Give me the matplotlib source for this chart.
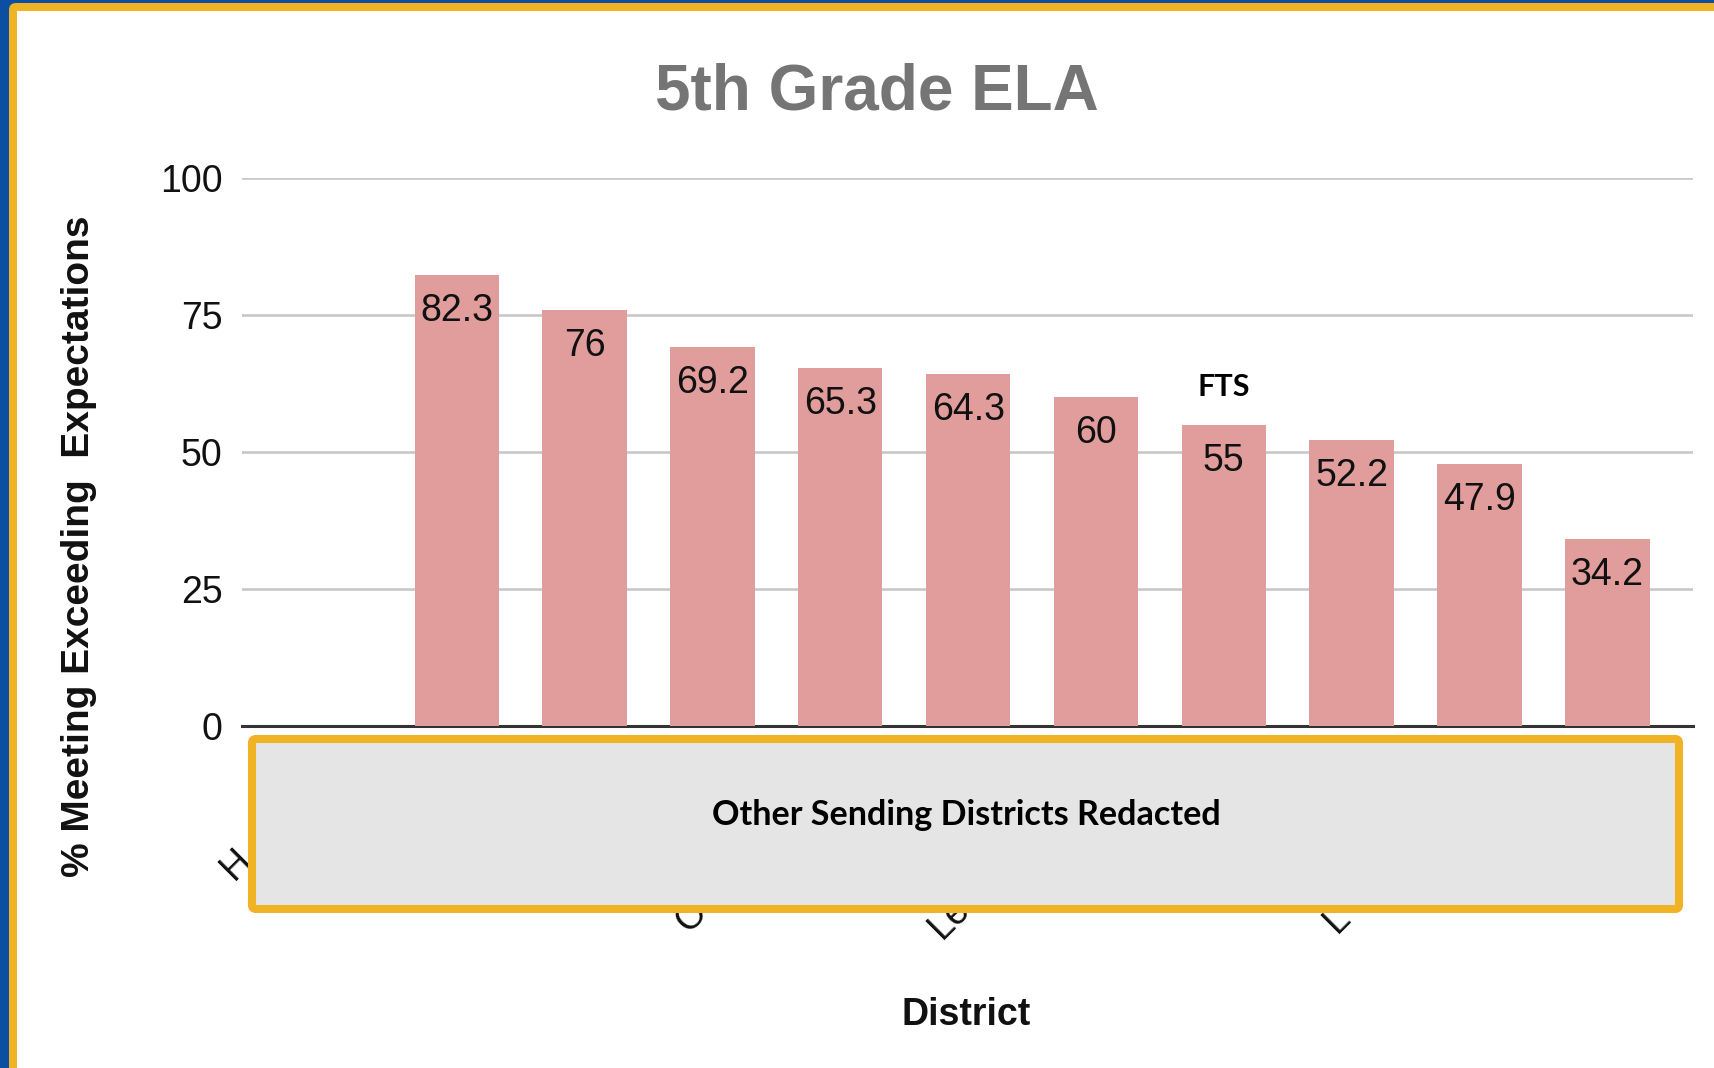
"""
5th Grade ELA - % meeting/exceeding expectations by district.
"""

import numpy as np
import matplotlib.pyplot as plt
from matplotlib.patches import Rectangle, FancyBboxPatch
from matplotlib.transforms import IdentityTransform

# data
districts = ["H", "", "", "", "C", "", "Le", "", "", "L", ""]
scores = [np.nan, 82.3, 76, 69.2, 65.3, 64.3, 60, 55, 52.2, 47.9, 34.2]
value_labels = ["", "82.3", "76", "69.2", "65.3", "64.3", "60", "55", "52.2", "47.9", "34.2"]
y_ticks = [0, 25, 50, 75, 100]
highlight_index = 7
highlight_label = "FTS"

BAR_COLOR = "#E09D9C"
GOLD = "#F0B323"
BLUE = "#0B4EA2"

W, H = 1714, 1068
fig = plt.figure(figsize=(W / 100, H / 100), dpi=100)
fig.patch.set_facecolor(BLUE)

# slide frame: blue edge, gold border, white body
ident = IdentityTransform()
fig.add_artist(FancyBboxPatch((9, -40), W + 40, H - 3 + 40,
                              boxstyle="round,pad=0,rounding_size=7",
                              facecolor=GOLD, edgecolor="none",
                              transform=ident, zorder=-3))
fig.add_artist(Rectangle((17, -40), W + 40, H - 11 + 40,
                         facecolor="white", edgecolor="none",
                         transform=ident, zorder=-2))

ax = fig.add_axes([242 / W, 342 / H, 1451 / W, 548 / H])
ax.set_facecolor("none")

x = np.arange(len(districts))
ax.bar(x, scores, width=0.66, color=BAR_COLOR, zorder=3)

ax.set_xlim(-0.68, len(districts) - 0.33)
ax.set_ylim(0, 100)
ax.set_yticks(y_ticks)
ax.set_xticks([])
ax.grid(True, axis="y", color="#C8C8C8", linewidth=1.9, zorder=0)
ax.set_axisbelow(True)
ax.axhline(0, color="#333333", linewidth=2.2, zorder=2, clip_on=False)
for s in ax.spines.values():
    s.set_visible(False)
ax.tick_params(axis="y", length=0, pad=14, labelsize=27, labelcolor="#111111")
for lbl in ax.get_yticklabels():
    lbl.set_fontfamily("Liberation Sans")

# value labels inside the top of each bar
for xi, val, txt in zip(x, scores, value_labels):
    if np.isnan(val):
        continue
    ax.annotate(txt, xy=(xi, val), xytext=(0, -18), textcoords="offset pixels",
                ha="center", va="top", fontsize=27, color="#111111",
                family="Liberation Sans", zorder=4)

ax.annotate(highlight_label, xy=(highlight_index, scores[highlight_index]),
            xytext=(0, 38), textcoords="offset pixels", ha="center", va="center",
            fontsize=22, fontweight="bold", family="Lato", color="black")

# fragments of the rotated district names that show past the redaction box
frag_offsets = {0: (-95, -155), 4: (-152, -208), 6: (-154, -214), 9: (-143, -208)}
for xi, name in enumerate(districts):
    if not name:
        continue
    ax.annotate(name, xy=(xi, 0), xytext=frag_offsets[xi], textcoords="offset pixels",
                ha="left", va="baseline", rotation=45, rotation_mode="anchor",
                fontsize=27, color="#111111", family="Liberation Sans",
                annotation_clip=False)

# titles
fig.text(877 / W, 1 - 92 / H, "5th Grade ELA", ha="center", va="center",
         fontsize=46, fontweight="bold", color="#757575", family="Liberation Sans")
fig.text(79 / W, 1 - 546 / H, "% Meeting Exceeding  Expectations", rotation=90,
         ha="center", va="center", fontsize=28, fontweight="bold",
         color="#111111", family="Liberation Sans")
fig.text(966 / W, 1 - 1015 / H, "District", ha="center", va="center",
         fontsize=27, fontweight="bold", color="#111111", family="Liberation Sans")

# redaction box over the district names
fig.add_artist(FancyBboxPatch((252, H - 909), 1427, 170,
                              boxstyle="round,pad=0,rounding_size=4",
                              facecolor="#E5E5E5", edgecolor=GOLD, linewidth=5.8,
                              transform=ident, zorder=5))
fig.text(966 / W, 1 - 815 / H, "Other Sending Districts Redacted", ha="center",
         va="center", fontsize=24.6, fontweight="bold", family="Lato",
         color="black", zorder=6)

plt.savefig("out.png", dpi=100)
